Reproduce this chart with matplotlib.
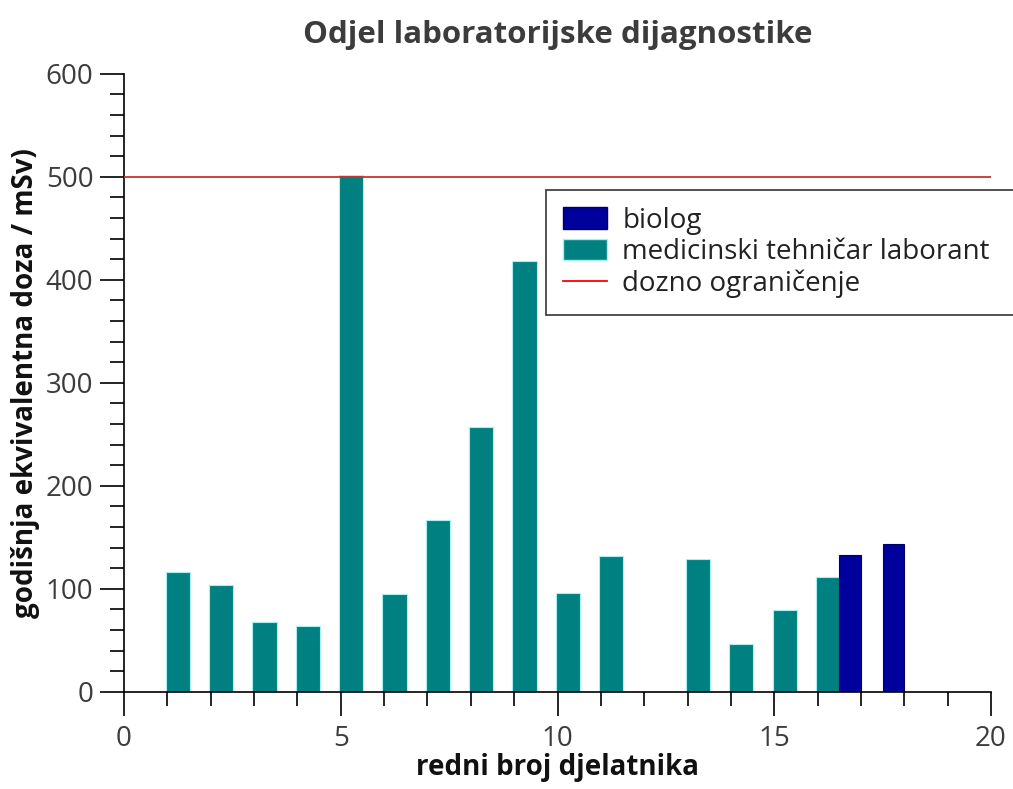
import matplotlib
matplotlib.use("Agg")
import matplotlib.pyplot as plt
from matplotlib.ticker import MultipleLocator
from matplotlib.patches import Patch
from matplotlib.lines import Line2D

plt.rcParams['font.family'] = ['Open Sans', 'DejaVu Sans']

# data
tech_x = [1, 2, 3, 4, 5, 6, 7, 8, 9, 10, 11, 13, 14, 15, 16]
tech_y = [116, 104, 68, 64, 502, 95, 167, 257, 418, 96, 132, 129, 46, 79, 111]
bio_x = [17, 18]
bio_y = [133, 143]
limit = 500

title = "Odjel laboratorijske dijagnostike"
xlabel = "redni broj djelatnika"
ylabel = "godišnja ekvivalentna doza / mSv)"
labels = ["biolog", "medicinski tehničar laborant", "dozno ograničenje"]

teal = "#008080"
navy = "#00009c"
txt = "#3c3c3c"

fig = plt.figure(figsize=(10.13, 7.89), dpi=100)
ax = fig.add_axes([124/1013, 1-691.7/789, (991-124)/1013, (691.7-73.7)/789])

ax.bar([x - 0.04 for x in tech_x], tech_y, width=0.56, align='edge',
       color=teal, edgecolor="#a8f0f0", linewidth=0.8, zorder=2)
ax.bar([x - 0.5 for x in bio_x], bio_y, width=0.5, align='edge',
       color=navy, edgecolor="#000060", linewidth=0.8, zorder=2)
ax.plot([0, 20], [limit, limit], color="#c83232", lw=1.3, zorder=3)

ax.set_xlim(0, 20)
ax.set_ylim(0, 600)
ax.xaxis.set_major_locator(MultipleLocator(5))
ax.xaxis.set_minor_locator(MultipleLocator(1))
ax.yaxis.set_major_locator(MultipleLocator(100))
ax.yaxis.set_minor_locator(MultipleLocator(20))
ax.tick_params(which='major', length=17, width=1.2, direction='out',
               labelsize=20, labelcolor=txt)
ax.tick_params(axis='x', which='major', pad=7)
ax.tick_params(axis='y', which='major', pad=5)
ax.tick_params(which='minor', length=10, width=1.2, direction='out')
for s in ['top', 'right']:
    ax.spines[s].set_visible(False)
for s in ['left', 'bottom']:
    ax.spines[s].set_linewidth(1.2)

ax.set_title(title, fontsize=22.5, fontweight='bold', color=txt, pad=22)
ax.set_xlabel(xlabel, fontsize=20, fontweight='bold', color='#111111', labelpad=0)
ax.set_ylabel(ylabel, fontsize=20, fontweight='bold', color='#111111', labelpad=4)

handles = [Patch(facecolor=navy, edgecolor="#000060"),
           Patch(facecolor=teal, edgecolor="#a8f0f0"),
           Line2D([], [], color="red", lw=1.3)]
leg = fig.legend(handles, labels, loc='upper left', mode='expand',
                 bbox_to_anchor=(546/1013, 0, 520/1013, 1-190/789),
                 fontsize=20, frameon=True, fancybox=False, borderaxespad=0,
                 handlelength=1.6, handleheight=0.8, handletextpad=0.55,
                 labelspacing=0.12, borderpad=0.6)
leg.get_frame().set_edgecolor('black')
leg.get_frame().set_linewidth(1.2)
for t in leg.get_texts():
    t.set_color('#222222')

fig.savefig("out.png", dpi=100)
